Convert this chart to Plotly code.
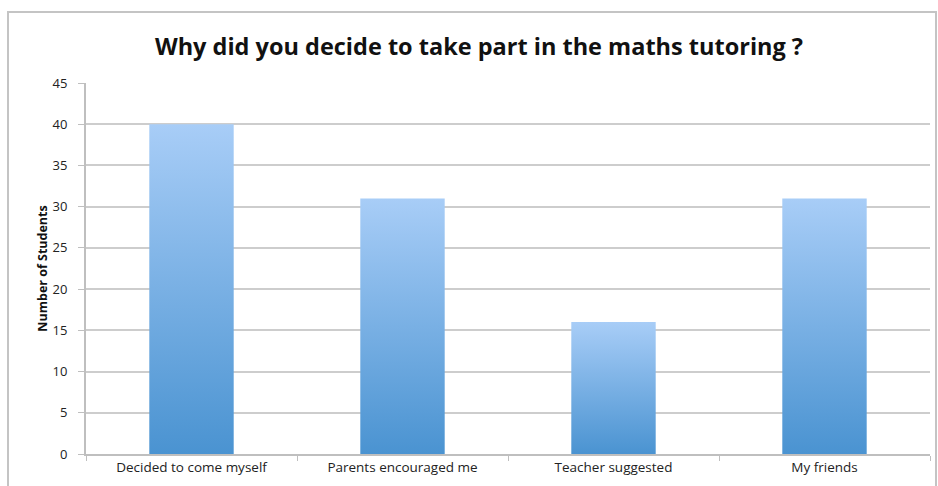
import plotly.graph_objects as go

categories = ["Decided to come myself", "Parents encouraged me", "Teacher suggested", "My friends"]
values = [40, 31, 16, 31]
y_ticks = [0, 5, 10, 15, 20, 25, 30, 35, 40, 45]

W, H = 938, 486
L, R, T, B = 86, 8, 83, 32
pw, ph = W - L - R, H - T - B
bar_half = 0.2

fig = go.Figure()
for i, (c, v) in enumerate(zip(categories, values)):
    fig.add_trace(go.Scatter(
        x=[i - bar_half, i + bar_half, i + bar_half, i - bar_half, i - bar_half],
        y=[0, 0, v, v, 0],
        mode="lines", line=dict(width=0), fill="toself",
        fillgradient=dict(type="vertical",
                          colorscale=[[0, "#4a93d1"], [1, "#a8cdf7"]]),
        hoverinfo="skip", showlegend=False, name=c,
    ))

fig.update_layout(
    width=W, height=H,
    margin=dict(l=L, r=R, t=T, b=B),
    paper_bgcolor="white", plot_bgcolor="white",
    title=dict(text="<b>Why did you decide to take part in the maths tutoring ?</b>",
               x=(479 - L) / pw, xref="paper", xanchor="center",
               y=1 - 47 / H, yref="container", yanchor="middle",
               font=dict(family="Open Sans", size=23.5, color="#111111")),
    xaxis=dict(range=[-0.5, len(categories) - 0.5],
               tickvals=list(range(len(categories))), ticktext=categories,
               showgrid=False, zeroline=False,
               showline=True, linecolor="#bfbfbf", linewidth=2,
               ticks="", tickfont=dict(family="Open Sans", size=13.5, color="#222222"),
               minor=dict(tickvals=[k - 0.5 for k in range(len(categories) + 1)],
                          ticks="outside", ticklen=5, tickcolor="#bfbfbf", tickwidth=1),
               fixedrange=True),
    yaxis=dict(range=[0, 45], tickvals=y_ticks,
               showgrid=True, gridcolor="#cdcdcd", gridwidth=2,
               zeroline=False, showline=True, linecolor="#bfbfbf", linewidth=2,
               ticks="outside", ticklen=6, tickcolor="#bfbfbf", ticklabelstandoff=8,
               tickfont=dict(family="Open Sans", size=13, color="#222222"),
               title=dict(text="<b>Number of Students</b>", standoff=2,
                          font=dict(family="Open Sans", size=12.5, color="#111111")),
               fixedrange=True),
)

fig.add_shape(type="rect", xref="paper", yref="paper",
              x0=(8 - L) / pw, x1=(936 - L) / pw,
              y0=-0.2, y1=(T + ph - 12) / ph,
              line=dict(color="#c4c4c4", width=2), fillcolor="rgba(0,0,0,0)", layer="below")

fig.write_html("out.html")
